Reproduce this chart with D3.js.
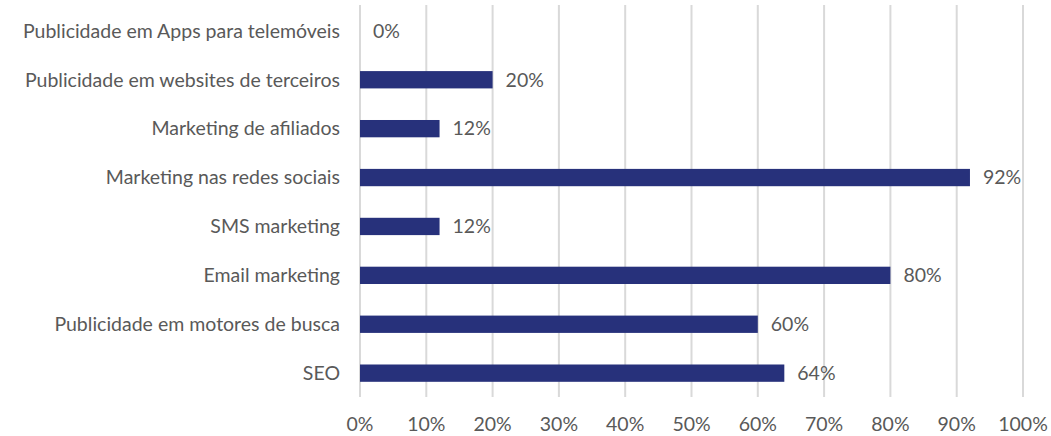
<!DOCTYPE html>
<html>
<head>
<meta charset="utf-8">
<script src="https://cdn.jsdelivr.net/npm/d3@7"></script>
<style>
  html, body { margin: 0; padding: 0; background: #fff; }
  svg { display: block; }
  text { font-family: Lato, "Open Sans", sans-serif; fill: #595959; }
</style>
</head>
<body>
<svg id="chart" width="1051" height="436"></svg>
<script>
// Marketing channels, top to bottom as listed
const categories = [
  "Publicidade em Apps para telemóveis",
  "Publicidade em websites de terceiros",
  "Marketing de afiliados",
  "Marketing nas redes sociais",
  "SMS marketing",
  "Email marketing",
  "Publicidade em motores de busca",
  "SEO"
];
// Share of respondents using each channel (%)
const values = [0, 20, 12, 92, 12, 80, 60, 64];
const tickValues = [0, 10, 20, 30, 40, 50, 60, 70, 80, 90, 100];

const fontSize = 19.5;
const svg = d3.select("#chart");
const x = d3.scaleLinear().domain([0, 100]).range([360, 1023]);
const y = d3.scaleBand().domain(categories).range([6.4, 397.6]).paddingInner(0.646).paddingOuter(0.323);

// vertical gridlines
svg.append("g").selectAll("line").data(tickValues).join("line")
  .attr("x1", d => x(d)).attr("x2", d => x(d))
  .attr("y1", 5).attr("y2", 397)
  .attr("stroke", "#d9d9d9").attr("stroke-width", 2);

// x axis tick labels
svg.append("g").selectAll("text").data(tickValues).join("text")
  .attr("x", d => x(d)).attr("y", 424)
  .attr("dy", "0.35em")
  .attr("text-anchor", "middle")
  .attr("font-size", fontSize)
  .text(d => d + "%");

// bars
svg.append("g").selectAll("rect").data(categories).join("rect")
  .attr("x", x(0))
  .attr("y", d => y(d))
  .attr("width", (d, i) => x(values[i]) - x(0))
  .attr("height", y.bandwidth())
  .attr("fill", "#27317b");

// category labels
svg.append("g").selectAll("text").data(categories).join("text")
  .attr("x", 340)
  .attr("y", d => y(d) + y.bandwidth() / 2)
  .attr("dy", "0.35em")
  .attr("text-anchor", "end")
  .attr("font-size", fontSize)
  .text(d => d);

// value labels
svg.append("g").selectAll("text").data(categories).join("text")
  .attr("x", (d, i) => x(values[i]) + 13)
  .attr("y", d => y(d) + y.bandwidth() / 2)
  .attr("dy", "0.35em")
  .attr("font-size", fontSize)
  .text((d, i) => values[i] + "%");
</script>
</body>
</html>
